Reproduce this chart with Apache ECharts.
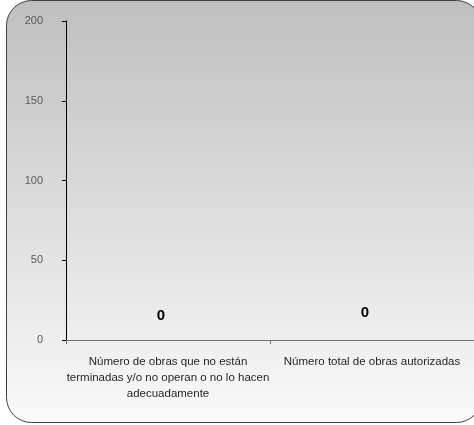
<!DOCTYPE html>
<html>
<head>
<meta charset="utf-8">
<script src="https://cdn.jsdelivr.net/npm/echarts@6/dist/echarts.min.js"></script>
<style>html,body{margin:0;padding:0;background:#fff;}#c{width:474px;height:425px;}</style>
</head>
<body>
<div id="c"></div>
<script>
var categories = ["Número de obras que no están\nterminadas y/o no operan o no lo hacen\nadecuadamente", "Número total de obras autorizadas"];
var values = [0, 0];
var yTicks = [0, 50, 100, 150, 200];

var labelOffsets = [[-7, 0], [-7, -3]];

var chart = echarts.init(document.getElementById('c'), null, {renderer: 'canvas'});
chart.setOption({
  animation: false,
  backgroundColor: '#ffffff',
  graphic: [{
    type: 'rect',
    z: -10,
    silent: true,
    shape: {x: 6.5, y: 0.5, width: 475, height: 422, r: 25},
    style: {
      fill: new echarts.graphic.LinearGradient(0, 0, 0, 1, [
        {offset: 0, color: '#bfbfbf'},
        {offset: 1, color: '#fafafa'}
      ]),
      stroke: '#404040',
      lineWidth: 1
    }
  }],
  grid: {left: 66, top: 21, width: 410, height: 319, containLabel: false},
  xAxis: {
    type: 'category',
    data: categories,
    axisLine: {lineStyle: {color: '#707070', width: 1}},
    axisTick: {show: true, alignWithLabel: false, length: 4, inside: false, lineStyle: {color: '#707070'}},
    axisLabel: {
      interval: 0,
      margin: 14,
      color: '#262626',
      fontFamily: 'Liberation Sans',
      fontSize: 11.5,
      lineHeight: 16,
      align: 'center'
    },
    splitLine: {show: false}
  },
  yAxis: {
    type: 'value',
    min: yTicks[0],
    max: yTicks[yTicks.length - 1],
    interval: 50,
    axisLine: {show: true, lineStyle: {color: '#000000', width: 1}},
    axisTick: {show: true, length: 4, lineStyle: {color: '#000000'}},
    axisLabel: {
      margin: 23,
      color: '#595959',
      fontFamily: 'Liberation Sans',
      fontSize: 11
    },
    splitLine: {show: false}
  },
  series: [{
    type: 'bar',
    data: values.map(function (v, i) {
      return {value: v, label: {offset: labelOffsets[i]}};
    }),
    barWidth: '40%',
    itemStyle: {color: '#4f81bd'},
    label: {
      show: true,
      position: 'top',
      distance: 17,
      color: '#000000',
      fontWeight: 'bold',
      fontFamily: 'Liberation Sans',
      fontSize: 15
    },
    silent: true
  }]
});
</script>
</body>
</html>
